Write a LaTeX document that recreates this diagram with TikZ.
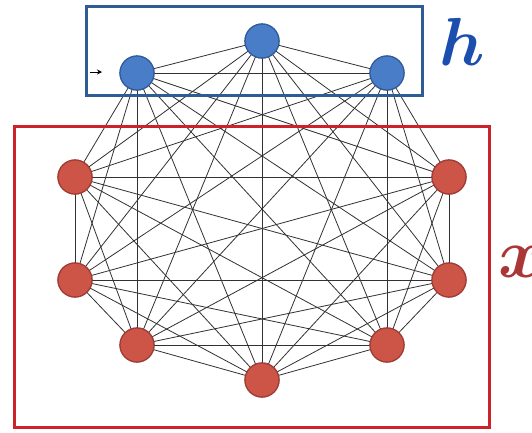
\documentclass[tikz,border=0pt]{standalone}
\usepackage{bm}
\usetikzlibrary{arrows.meta}
\definecolor{bfill}{RGB}{74,125,200}
\definecolor{bdraw}{RGB}{48,92,155}
\definecolor{rfill}{RGB}{204,85,72}
\definecolor{rdraw}{RGB}{160,60,52}
\definecolor{brect}{RGB}{46,92,150}
\definecolor{rrect}{RGB}{204,34,41}
\definecolor{hcol}{RGB}{28,78,175}
\definecolor{xcol}{RGB}{170,55,55}
\definecolor{edge}{RGB}{50,50,50}
\tikzset{
  vis/.style={circle,minimum size=34pt,inner sep=0pt,fill=rfill,draw=rdraw,line width=1.2pt},
  hid/.style={circle,minimum size=34pt,inner sep=0pt,fill=bfill,draw=bdraw,line width=1.2pt},
  link/.style={draw=edge,line width=0.8pt},
  grp/.style={line width=3pt},
  biglab/.style={inner sep=0pt}
}
\begin{document}
\begin{tikzpicture}[x=1pt,y=-1pt]
\useasboundingbox (0,0) rectangle (532,432);
\fill[white] (0,0) rectangle (532,432);
% nodes
\node[hid] (n1) at (137,73) {};
\node[hid] (n2) at (262,41) {};
\node[hid] (n3) at (387,73) {};
\node[vis] (n4) at (449,177) {};
\node[vis] (n5) at (449,280) {};
\node[vis] (n6) at (387,345) {};
\node[vis] (n7) at (262,380) {};
\node[vis] (n8) at (137,345) {};
\node[vis] (n9) at (75,280) {};
\node[vis] (n10) at (75,177) {};
% edges (complete graph)
\foreach \i in {1,...,10}{
  \foreach \j in {1,...,10}{
    \ifnum\i<\j
      \draw[link] (n\i.center) -- (n\j.center);
    \fi
  }
}
% redraw nodes over edges
\node[hid] (m1) at (137,73) {};
\node[hid] (m2) at (262,41) {};
\node[hid] (m3) at (387,73) {};
\node[vis] (m4) at (449,177) {};
\node[vis] (m5) at (449,280) {};
\node[vis] (m6) at (387,345) {};
\node[vis] (m7) at (262,380) {};
\node[vis] (m8) at (137,345) {};
\node[vis] (m9) at (75,280) {};
\node[vis] (m10) at (75,177) {};
% group boxes
\node[draw=brect,grp,minimum width=336pt,minimum height=89pt,inner sep=0pt] (hbox) at (254.5,51) {};
\node[draw=rrect,grp,minimum width=475pt,minimum height=301pt,inner sep=0pt] (xbox) at (252,277) {};
% labels
\node[biglab,text=hcol] (hlab) at (462,42) {\scalebox{6.8}{$\bm{h}$}};
\node[biglab,text=xcol] (xlab) at (522,262) {\scalebox{7}{$\bm{x}$}};
% small arrow
\coordinate (a0) at (90,72);
\coordinate (a1) at (102,72);
\draw[-{Stealth[length=5pt,width=5pt]},line width=1pt] (a0) -- (a1);
\end{tikzpicture}
\end{document}
